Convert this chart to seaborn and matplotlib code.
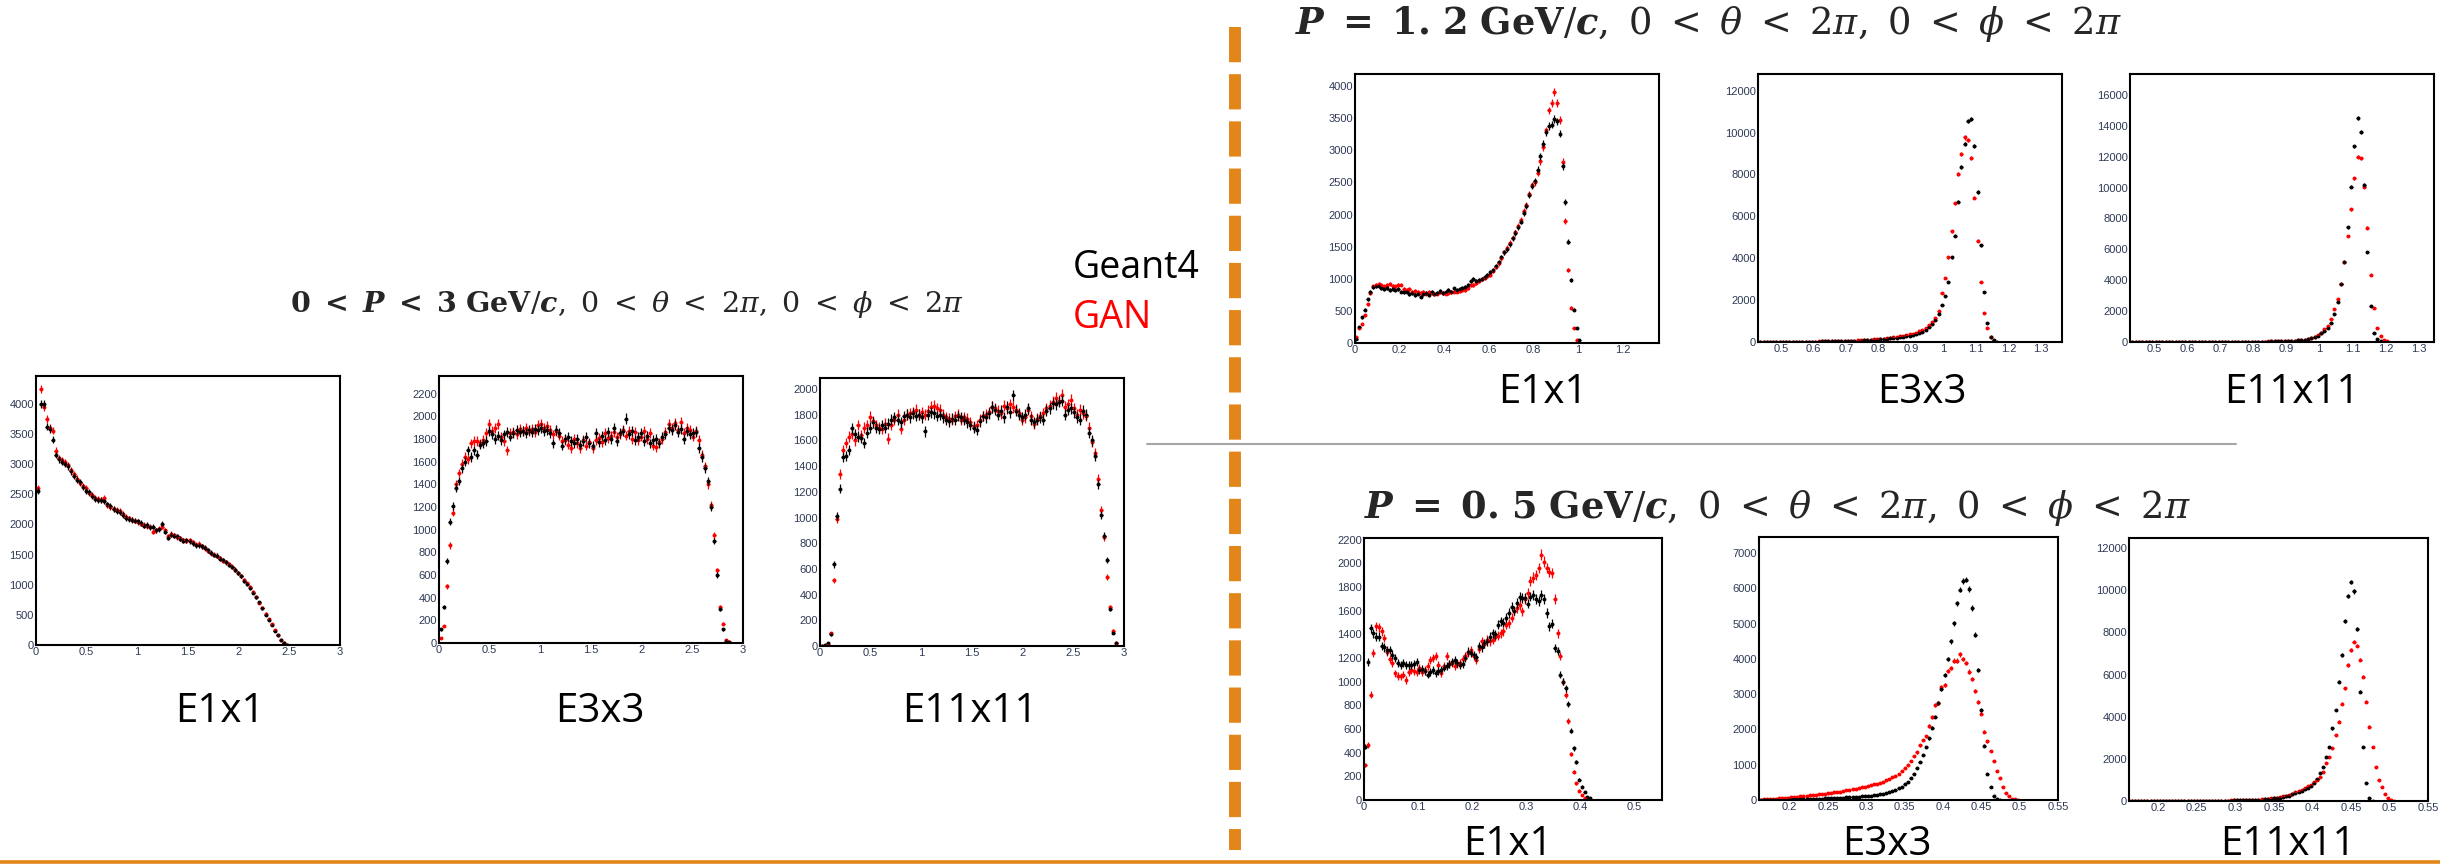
import numpy as np
import seaborn as sns
import matplotlib.pyplot as plt
from matplotlib.lines import Line2D
from matplotlib.ticker import MultipleLocator, FuncFormatter

# ---------------- data (counts per bin) ----------------
# 0 < P < 3 GeV/c, bins of 0.03 starting at 0
l1_g4 = [2550, 4000, 4000, 3620, 3580, 3400, 3150, 3080, 3040, 3000, 2960, 2880, 2800, 2740, 2700, 2620, 2560,
         2530, 2470, 2420, 2400, 2410, 2380, 2330, 2300, 2250, 2220, 2200, 2160, 2110, 2090, 2070, 2060, 2050,
         2020, 1980, 1990, 1950, 1960, 1900, 1920, 2010, 1880, 1780, 1830, 1810, 1800, 1760, 1730, 1740, 1720,
         1690, 1650, 1650, 1640, 1610, 1570, 1530, 1490, 1480, 1430, 1410, 1370, 1330, 1290, 1250, 1190, 1140,
         1060, 1010, 940, 870, 790, 710, 610, 500, 420, 330, 240, 160, 90, 25, 5]
l1_gan = [2600, 4250, 3950, 3750, 3600, 3550, 3220, 3100, 3060, 3030, 2980, 2900, 2830, 2760, 2680, 2640, 2600,
          2520, 2480, 2440, 2420, 2400, 2430, 2320, 2290, 2260, 2240, 2220, 2180, 2120, 2100, 2080, 2060, 2040,
          2010, 1990, 1970, 1960, 1880, 1900, 1930, 1960, 1900, 1800, 1840, 1820, 1790, 1770, 1740, 1730, 1740,
          1700, 1660, 1680, 1640, 1600, 1560, 1520, 1500, 1480, 1440, 1400, 1380, 1340, 1300, 1240, 1200, 1150,
          1080, 1020, 960, 880, 800, 700, 620, 520, 430, 340, 250, 170, 90, 30, 5]

l2_g4 = [120, 320, 720, 1070, 1210, 1370, 1430, 1540, 1600, 1700, 1640, 1700, 1660, 1750, 1760, 1780, 1870, 1840,
         1800, 1830, 1790, 1840, 1860, 1820, 1850, 1880, 1860, 1870, 1850, 1880, 1860, 1890, 1880, 1900, 1870,
         1880, 1850, 1760, 1880, 1850, 1740, 1800, 1820, 1780, 1760, 1800, 1750, 1780, 1820, 1760, 1740, 1850,
         1770, 1830, 1790, 1860, 1800, 1900, 1780, 1850, 1870, 1980, 1840, 1870, 1790, 1820, 1850, 1780, 1830,
         1760, 1790, 1800, 1760, 1820, 1840, 1900, 1880, 1920, 1860, 1890, 1800, 1870, 1840, 1850, 1860, 1720,
         1640, 1540, 1430, 1200, 900, 600, 300, 120, 20, 5]
l2_gan = [40, 150, 500, 860, 1150, 1400, 1500, 1580, 1640, 1620, 1760, 1780, 1780, 1760, 1790, 1850, 1930, 1870,
          1900, 1930, 1820, 1780, 1700, 1850, 1860, 1840, 1890, 1870, 1900, 1870, 1890, 1860, 1920, 1930, 1900,
          1910, 1880, 1840, 1870, 1830, 1780, 1790, 1750, 1720, 1800, 1760, 1720, 1790, 1740, 1770, 1720, 1790,
          1810, 1770, 1850, 1810, 1830, 1860, 1820, 1840, 1880, 1830, 1870, 1800, 1860, 1790, 1820, 1870, 1800,
          1850, 1740, 1730, 1770, 1800, 1860, 1930, 1900, 1940, 1880, 1950, 1850, 1900, 1880, 1820, 1870, 1790,
          1660, 1560, 1400, 1220, 950, 640, 320, 170, 30, 8]

l3_g4 = [0, 5, 20, 90, 635, 1015, 1225, 1470, 1480, 1525, 1695, 1650, 1630, 1620, 1580, 1660, 1700, 1740, 1700,
         1690, 1720, 1700, 1730, 1760, 1780, 1760, 1740, 1790, 1800, 1780, 1810, 1790, 1800, 1780, 1670, 1800,
         1820, 1810, 1790, 1800, 1780, 1760, 1750, 1770, 1760, 1790, 1780, 1760, 1740, 1720, 1700, 1680, 1750,
         1790, 1780, 1810, 1860, 1840, 1800, 1830, 1780, 1860, 1820, 1950, 1830, 1800, 1780, 1800, 1850, 1760,
         1740, 1760, 1780, 1760, 1830, 1850, 1890, 1880, 1900, 1910, 1800, 1840, 1850, 1820, 1780, 1760, 1830,
         1800, 1660, 1600, 1480, 1260, 1020, 860, 670, 290, 105, 25]
l3_gan = [0, 3, 15, 100, 510, 990, 1340, 1525, 1580, 1630, 1650, 1600, 1720, 1640, 1700, 1720, 1785, 1750, 1720,
          1700, 1690, 1730, 1615, 1720, 1760, 1800, 1690, 1760, 1800, 1810, 1820, 1840, 1800, 1820, 1800, 1830,
          1860, 1870, 1850, 1840, 1800, 1780, 1770, 1760, 1790, 1800, 1760, 1780, 1770, 1740, 1710, 1720, 1760,
          1790, 1800, 1820, 1860, 1850, 1830, 1810, 1870, 1850, 1880, 1860, 1840, 1810, 1760, 1780, 1840, 1790,
          1730, 1770, 1790, 1810, 1850, 1870, 1900, 1930, 1910, 1955, 1860, 1880, 1915, 1850, 1800, 1840, 1810,
          1790, 1700, 1590, 1500, 1300, 1060, 850, 535, 300, 120, 20]

# P = 1.2 GeV/c
tr1_g4 = [60, 250, 400, 520, 680, 790, 870, 880, 890, 850, 840, 860, 830, 840, 830, 840, 800, 790, 800, 760, 780,
          750, 770, 720, 760, 780, 750, 790, 770, 780, 810, 780, 800, 820, 800, 850, 820, 840, 860, 870, 900, 960,
          1000, 960, 980, 1000, 1030, 1060, 1100, 1140, 1200, 1260, 1340, 1410, 1460, 1540, 1630, 1710, 1800,
          1890, 2020, 2130, 2300, 2440, 2520, 2700, 2910, 3100, 3280, 3380, 3400, 3485, 3450, 3260, 2750, 2200,
          1575, 975, 520, 235, 50]
tr1_gan = [95, 240, 300, 430, 600, 780, 880, 900, 920, 910, 880, 910, 920, 890, 880, 900, 910, 840, 820, 840, 800,
           810, 790, 780, 790, 770, 790, 780, 760, 770, 790, 780, 770, 780, 790, 800, 800, 810, 820, 830, 860, 900,
           900, 940, 960, 990, 1010, 1040, 1060, 1120, 1180, 1240, 1320, 1410, 1480, 1560, 1640, 1720, 1820,
           1920, 2050, 2150, 2320, 2460, 2500, 2650, 2830, 3050, 3310, 3620, 3740, 3910, 3740, 3470, 2820, 1900,
           1140, 545, 235, 50, 5]

tr2_g4 = [5, 5, 6, 6, 7, 8, 8, 9, 10, 10, 11, 12, 13, 14, 15, 16, 18,
          20, 22, 24, 26, 28, 31, 34, 37, 40, 44,
          48, 52, 57, 62, 68, 75, 83, 92, 102, 113,
          125, 140, 155, 170, 190, 210, 230, 250, 275, 300,
          320, 360, 420, 490, 580, 700, 850, 1050, 1320, 1750,
          2210, 2850, 4040, 5080, 6700, 8340, 9440, 10570, 10650, 9370, 7160, 4620, 2370, 890, 250, 90, 20]
tr2_gan = [6, 6, 7, 7, 8, 9, 10, 10, 11, 12, 13, 14, 15, 16, 17, 19, 21,
           23, 25, 27, 30, 33, 36, 40, 44, 48, 53,
           58, 63, 69, 75, 82, 90, 100, 110, 122, 135,
           150, 165, 182, 200, 220, 245, 270, 300, 330, 360,
           400, 450, 510, 580, 680, 800, 950, 1150, 1500, 2355,
           3055, 4040, 5300, 6620, 8020, 8990, 9770, 9630, 8770, 6890, 4840, 2880, 1400, 650, 250, 60]

tr3_g4 = [2, 2, 2, 3, 3, 3, 4, 4, 4, 5, 5, 5, 6, 6, 7, 7, 8,
          8, 9, 9, 10, 10, 11, 11, 12, 12, 13,
          13, 14, 14, 15, 16, 16, 17, 18, 19, 20,
          20, 22, 24, 27, 30, 33, 37, 41, 46, 52,
          60, 70, 82, 100, 120, 150, 190, 240, 320, 420, 560, 720,
          930, 1250, 1790, 2610, 3735, 5160, 7430, 10060, 12675, 14490, 13600, 10170, 5850, 2330, 560, 170, 40]
tr3_gan = [2, 2, 3, 3, 3, 4, 4, 4, 5, 5, 6, 6, 6, 7, 7, 8, 9,
           9, 9, 10, 10, 11, 11, 12, 13, 13, 14,
           15, 15, 16, 17, 18, 18, 19, 20, 21, 22,
           24, 26, 28, 31, 34, 37, 41, 46, 52, 58,
           66, 76, 90, 108, 130, 160, 200, 260, 345, 460, 600,
           820, 1035, 1470, 2115, 2760, 3735, 5160, 6870, 8590, 10600, 12000, 11900, 10060, 7400, 4340, 2220,
           930, 390, 130, 40]

# P = 0.5 GeV/c
br1_g4 = [450, 1165, 1450, 1410, 1380, 1380, 1300, 1290, 1265, 1270,
          1230, 1200, 1160, 1140, 1157, 1140, 1140, 1140, 1150, 1170,
          1100, 1110, 1090, 1060, 1080, 1100, 1070, 1090, 1100, 1120,
          1130, 1150, 1170, 1185, 1160, 1140, 1150, 1200, 1255, 1240,
          1225, 1210, 1300, 1290, 1325, 1340, 1380, 1410, 1400, 1480,
          1510, 1500, 1540, 1580, 1635, 1600, 1665, 1720, 1710, 1705,
          1660, 1720, 1735, 1700, 1680, 1735, 1700, 1580, 1470, 1490,
          1285, 1260, 1060, 1000, 945, 812, 587, 437, 320, 170,
          113, 70, 28, 14]
br1_gan = [295, 465, 890, 1240, 1467, 1460, 1425, 1370, 1250, 1190,
           1155, 1070, 1050, 1045, 1060, 1015, 1080, 1100, 1090, 1085,
           1115, 1085, 1100, 1130, 1180, 1200, 1215, 1140, 1070, 1130,
           1215, 1150, 1160, 1130, 1150, 1160, 1190, 1215, 1240, 1270,
           1220, 1185, 1280, 1340, 1320, 1355, 1340, 1355, 1380, 1390,
           1410, 1425, 1480, 1495, 1540, 1595, 1620, 1650, 1595, 1700,
           1750, 1850, 1880, 1905, 1960, 2075, 2015, 1960, 1930, 1920,
           1700, 1410, 1215, 1000, 890, 670, 390, 240, 140, 80,
           42, 20, 8, 3]

br2_g4 = [5, 6, 7, 8, 9, 10, 11, 12, 14, 15,
          17, 19, 21, 23, 25, 27, 29, 32, 35, 38,
          41, 44, 47, 51, 55, 59, 63, 68, 73, 78,
          83, 89, 95, 102, 109, 117, 126, 136, 148, 162,
          180, 200, 225, 255, 290, 330, 380, 440, 520, 620,
          750, 900, 1080, 1280, 1500, 1750, 2050, 2365, 2745, 3140,
          3550, 3990, 4495, 5015, 5580, 5960, 6200, 6245, 5980, 5440,
          4680, 3690, 2555, 1540, 730, 380, 100, 30, 8]
br2_gan = [10, 15, 20, 26, 32, 38, 45, 52, 60, 68,
           76, 84, 92, 100, 110, 120, 130, 140, 150, 160,
           170, 180, 190, 200, 215, 228, 240, 255, 270, 285,
           300, 320, 340, 360, 380, 400, 420, 440, 460, 480,
           520, 560, 600, 640, 680, 750, 820, 900, 1000, 1100,
           1250, 1350, 1550, 1700, 1800, 2100, 2350, 2700, 2750, 3200,
           3250, 3650, 3750, 3950, 3950, 4130, 4000, 3880, 3640, 3420,
           3100, 2780, 2450, 1930, 1660, 1390, 1100, 820, 620, 380,
           200, 100, 40, 15, 5]

br3_g4 = [2, 2, 3, 3, 3, 4, 4, 4, 5, 5,
          5, 6, 6, 6, 7, 7, 8, 8, 9, 9,
          10, 10, 11, 12, 12, 13, 14, 15, 16, 17,
          18, 19, 20, 22, 24, 26, 28, 30, 33, 36,
          40, 46, 53, 62, 72, 85, 100, 120, 140, 160,
          190, 220, 260, 310, 360, 420, 480, 560, 640, 720,
          860, 1050, 1310, 1630, 2100, 2580, 3450, 4320, 5665, 6930,
          8520, 9740, 10400, 9940, 8165, 5175, 2580, 840, 130, 20]
br3_gan = [2, 2, 2, 3, 3, 3, 4, 4, 4, 5,
           5, 5, 6, 6, 7, 7, 7, 8, 8, 9,
           9, 10, 11, 11, 12, 13, 14, 15, 16, 17,
           18, 20, 22, 24, 26, 28, 31, 34, 38, 42,
           47, 54, 62, 72, 85, 100, 120, 140, 160, 190,
           220, 260, 300, 350, 410, 470, 540, 610, 690, 780,
           880, 1000, 1155, 1390, 1790, 2105, 2500, 3135, 3770, 4605,
           5350, 6460, 7170, 7565, 7375, 6700, 5905, 4715, 3530, 2580,
           1630, 1000, 650, 330, 130, 40, 10]

labels = ['E1x1', 'E3x3', 'E11x11']

# ---------------- style ----------------
sns.set_theme(style='white')
plt.rcParams['font.family'] = ['Open Sans', 'DejaVu Sans']
plt.rcParams['mathtext.fontset'] = 'dejavuserif'

W, H = 2440, 864
fig = plt.figure(figsize=(24.4, 8.64), dpi=100)
fig.patch.set_facecolor('white')

ORANGE = '#E3861A'
TICK_COL = '#2e3a55'


def px_axes(x0, y0, x1, y1):
    return fig.add_axes([x0 / W, 1 - y1 / H, (x1 - x0) / W, (y1 - y0) / H])


def draw_hist(box, lo, bw, g4, gan, xlim, ylim, xmaj, xmin, ymaj, ymin):
    ax = px_axes(*box)
    for vals, col in ((gan, 'red'), (g4, 'black')):
        y = np.asarray(vals, dtype=float)
        x = lo + bw * (np.arange(len(y)) + 0.5)
        ax.errorbar(x, y, xerr=bw / 2, yerr=np.sqrt(y), fmt='none', ecolor=col, elinewidth=0.9)
        sns.scatterplot(x=x, y=y, ax=ax, color=col, s=8, linewidth=0, legend=False)
    ax.set_xlim(*xlim)
    ax.set_ylim(*ylim)
    ax.xaxis.set_major_locator(MultipleLocator(xmaj))
    ax.xaxis.set_minor_locator(MultipleLocator(xmin))
    ax.yaxis.set_major_locator(MultipleLocator(ymaj))
    ax.yaxis.set_minor_locator(MultipleLocator(ymin))
    fmt = FuncFormatter(lambda v, p: f'{v:g}')
    ax.xaxis.set_major_formatter(fmt)
    ax.yaxis.set_major_formatter(fmt)
    ax.tick_params(which='both', direction='in', top=False, right=False, width=0.9,
                   labelsize=8, labelcolor=TICK_COL, color='black', pad=1.5)
    ax.tick_params(which='major', length=6)
    ax.tick_params(which='minor', length=3)
    for lab in ax.get_xticklabels() + ax.get_yticklabels():
        lab.set_family(['Liberation Sans', 'DejaVu Sans'])
    for sp in ax.spines.values():
        sp.set_color('black')
        sp.set_linewidth(1.5)
    ax.set_xlabel('')
    ax.set_ylabel('')
    return ax


# left group: 0 < P < 3 GeV/c
draw_hist((36, 376, 340, 645), 0, 0.03, l1_g4, l1_gan, (0, 3), (0, 4460), 0.5, 0.1, 500, 100)
draw_hist((439, 376, 743, 643), 0, 0.03, l2_g4, l2_gan, (0, 3), (0, 2355), 0.5, 0.1, 200, 50)
draw_hist((820, 378, 1124, 646), 0, 0.03, l3_g4, l3_gan, (0, 3), (0, 2086), 0.5, 0.1, 200, 50)

# top right: P = 1.2 GeV/c
draw_hist((1355, 74, 1659, 343), 0, 0.0125, tr1_g4, tr1_gan, (0, 1.363), (0, 4187), 0.2, 0.05, 500, 100)
draw_hist((1758, 74, 2062, 342), 0.43, 0.01, tr2_g4, tr2_gan, (0.428, 1.365), (0, 12800), 0.1, 0.02, 2000, 500)
draw_hist((2130, 74, 2434, 342), 0.43, 0.01, tr3_g4, tr3_gan, (0.4275, 1.346), (0, 17360), 0.1, 0.02, 2000, 500)

# bottom right: P = 0.5 GeV/c
draw_hist((1364, 538, 1662, 800), 0, 0.005, br1_g4, br1_gan, (0, 0.5505), (0, 2215), 0.1, 0.02, 200, 50)
draw_hist((1759, 537, 2058, 800), 0.16, 0.004, br2_g4, br2_gan, (0.16, 0.55), (0, 7455), 0.05, 0.01, 1000, 200)
draw_hist((2129, 538, 2428, 801), 0.16, 0.004, br3_g4, br3_gan, (0.162, 0.55), (0, 12475), 0.05, 0.01, 2000, 500)

# panel captions
caps = [(220, 712), (600, 712), (970, 712),
        (1543, 393), (1922, 393), (2292, 393),
        (1508, 845), (1887, 845), (2288, 845)]
for k, (cx, cy) in enumerate(caps):
    fig.text(cx / W, 1 - cy / H, labels[k % 3], fontsize=29, color='black', ha='center', va='center')

# titles
rest = r', \ 0\ <\ \theta\ <\ 2\pi, \ 0\ <\ \phi\ <\ 2\pi$'
t_left = r'$\mathbf{0}\ \boldsymbol{<}\ \mathbfit{P}\ \boldsymbol{<}\ \mathbf{3\ GeV}/\mathbfit{c}' + rest
t_top = r'$\mathbfit{P}\ \mathbf{=}\ \mathbf{1.\,2\ GeV}/\mathbfit{c}' + rest
t_bot = r'$\mathbfit{P}\ \mathbf{=}\ \mathbf{0.\,5\ GeV}/\mathbfit{c}' + rest
fig.text(627 / W, 1 - 305 / H, t_left, fontsize=20.5, ha='center', va='center')
fig.text(1708 / W, 1 - 24 / H, t_top, fontsize=26.5, ha='center', va='center')
fig.text(1777 / W, 1 - 508 / H, t_bot, fontsize=26.5, ha='center', va='center')

# legend words
fig.text(1073 / W, 1 - 268 / H, 'Geant4', fontsize=27, color='black', ha='left', va='center')
fig.text(1073 / W, 1 - 318 / H, 'GAN', fontsize=27, color='#FF0000', ha='left', va='center')

# partially visible red heading at the very top (cut off by the slide edge)
fig.text(352 / W, 1.0, 'Calibration results', fontsize=21, color='#D02828', ha='left', va='baseline')

# separators
fig.add_artist(Line2D([1147 / W, 2236 / W], [1 - 444 / H, 1 - 444 / H], transform=fig.transFigure,
                      color='#A6A6A6', lw=1.5))
fig.add_artist(Line2D([1235 / W, 1235 / W], [1 - 27 / H, 1 - 850 / H], transform=fig.transFigure,
                      color=ORANGE, lw=8.6, linestyle=(0, (2.95, 1.0)), solid_capstyle='butt'))
fig.add_artist(Line2D([0, 1], [1 - 861.5 / H, 1 - 861.5 / H], transform=fig.transFigure,
                      color=ORANGE, lw=2.6))

fig.savefig('out.png', dpi=100)
